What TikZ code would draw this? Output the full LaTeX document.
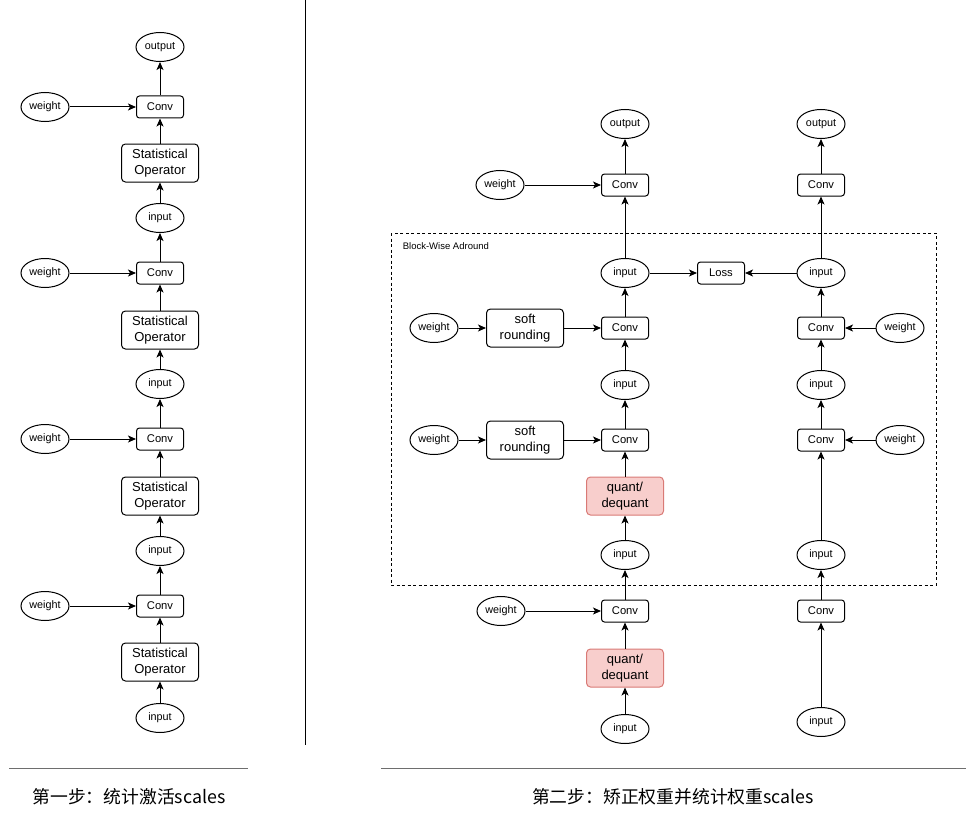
\documentclass[tikz,border=0pt]{standalone}
\usepackage{fontspec}
\setmainfont{Liberation Sans}
\newfontfamily\cjk{Noto Sans CJK SC}
\usetikzlibrary{arrows.meta,shapes.geometric}
\definecolor{qfill}{HTML}{F8CECC}
\definecolor{qdraw}{HTML}{D97A76}
\definecolor{rulegray}{HTML}{6E6E6E}
\begin{document}
\begin{tikzpicture}[x=1pt,y=-1pt,line width=1pt,
  ell/.style={ellipse,draw,minimum width=48pt,minimum height=29pt,inner sep=0pt,font=\fontsize{10.8}{12}\selectfont},
  box/.style={rectangle,rounded corners=3pt,draw,minimum width=47pt,minimum height=22pt,inner sep=0pt,font=\fontsize{11.2}{12}\selectfont},
  bigbox/.style={rectangle,rounded corners=4pt,draw,minimum width=77pt,minimum height=38pt,inner sep=0pt,align=center,font=\fontsize{13}{15.5}\selectfont},
  qd/.style={bigbox,fill=qfill,draw=qdraw},
  arr/.style={-{Stealth[length=8pt,width=7pt,inset=2pt]}},
  captext/.style={font=\cjk\fontsize{17.8}{20}\selectfont}
]
\useasboundingbox (0,0) rectangle (974,824);

% ---------------- left diagram ----------------
\node[ell] (Lout) at (160,47) {output};
\node[box] (Lc1) at (160,107) {Conv};
\node[ell] (Lw1) at (45,107) {weight};
\node[bigbox] (Ls1) at (160,163) {Statistical\\Operator};
\node[ell] (Li1) at (160,218) {input};
\node[box] (Lc2) at (160,273) {Conv};
\node[ell] (Lw2) at (45,273) {weight};
\node[bigbox] (Ls2) at (160,330) {Statistical\\Operator};
\node[ell] (Li2) at (160,384) {input};
\node[box] (Lc3) at (160,439) {Conv};
\node[ell] (Lw3) at (45,439) {weight};
\node[bigbox] (Ls3) at (160,496) {Statistical\\Operator};
\node[ell] (Li3) at (160,551) {input};
\node[box] (Lc4) at (160,606) {Conv};
\node[ell] (Lw4) at (45,606) {weight};
\node[bigbox] (Ls4) at (160,662) {Statistical\\Operator};
\node[ell] (Li4) at (160,718) {input};

\draw[arr] (Li4) -- (Ls4);
\draw[arr] (Ls4) -- (Lc4);
\draw[arr] (Lc4) -- (Li3);
\draw[arr] (Li3) -- (Ls3);
\draw[arr] (Ls3) -- (Lc3);
\draw[arr] (Lc3) -- (Li2);
\draw[arr] (Li2) -- (Ls2);
\draw[arr] (Ls2) -- (Lc2);
\draw[arr] (Lc2) -- (Li1);
\draw[arr] (Li1) -- (Ls1);
\draw[arr] (Ls1) -- (Lc1);
\draw[arr] (Lc1) -- (Lout);
\draw[arr] (Lw1) -- (Lc1);
\draw[arr] (Lw2) -- (Lc2);
\draw[arr] (Lw3) -- (Lc3);
\draw[arr] (Lw4) -- (Lc4);

% separator
\draw[line width=1pt] (305,0) -- (305,745);

% ---------------- right diagram ----------------
\draw[dashed,dash pattern=on 3pt off 2.5pt,line width=0.9pt] (391,233) rectangle (936,585);
\node[anchor=west,font=\fontsize{9.5}{11}\selectfont] (blk) at (399,246) {Block-Wise Adround};

% column A
\node[ell] (Aout) at (625,124) {output};
\node[box] (Ac1) at (625,185) {Conv};
\node[ell] (Aw1) at (500,185) {weight};
\node[ell] (Ai1) at (625,273) {input};
\node[box] (Ac2) at (625,328) {Conv};
\node[bigbox] (As2) at (525,328) {soft\\rounding};
\node[ell] (Aw2) at (434,328) {weight};
\node[ell] (Ai2) at (625,385) {input};
\node[box] (Ac3) at (625,440) {Conv};
\node[bigbox] (As3) at (525,440) {soft\\rounding};
\node[ell] (Aw3) at (434,440) {weight};
\node[qd] (Aq1) at (625,496) {quant/\\dequant};
\node[ell] (Ai3) at (625,555) {input};
\node[box] (Ac4) at (625,611) {Conv};
\node[ell] (Aw4) at (501,611) {weight};
\node[qd] (Aq2) at (625,668) {quant/\\dequant};
\node[ell] (Ai4) at (625,729) {input};

% loss
\node[box] (loss) at (721,273) {Loss};

% column B
\node[ell] (Bout) at (821,124) {output};
\node[box] (Bc1) at (821,185) {Conv};
\node[ell] (Bi1) at (821,273) {input};
\node[box] (Bc2) at (821,328) {Conv};
\node[ell] (Bw2) at (900,328) {weight};
\node[ell] (Bi2) at (821,385) {input};
\node[box] (Bc3) at (821,440) {Conv};
\node[ell] (Bw3) at (900,440) {weight};
\node[ell] (Bi3) at (821,555) {input};
\node[box] (Bc4) at (821,611) {Conv};
\node[ell] (Bi4) at (821,722) {input};

% column A arrows
\draw[arr] (Ai4) -- (Aq2);
\draw[arr] (Aq2) -- (Ac4);
\draw[arr] (Ac4) -- (Ai3);
\draw[arr] (Ai3) -- (Aq1);
\draw[arr] (Aq1) -- (Ac3);
\draw[arr] (Ac3) -- (Ai2);
\draw[arr] (Ai2) -- (Ac2);
\draw[arr] (Ac2) -- (Ai1);
\draw[arr] (Ai1) -- (Ac1);
\draw[arr] (Ac1) -- (Aout);
\draw[arr] (Aw1) -- (Ac1);
\draw[arr] (Aw4) -- (Ac4);
\draw[arr] (Aw2) -- (As2);
\draw[arr] (As2) -- (Ac2);
\draw[arr] (Aw3) -- (As3);
\draw[arr] (As3) -- (Ac3);

% column B arrows
\draw[arr] (Bi4) -- (Bc4);
\draw[arr] (Bc4) -- (Bi3);
\draw[arr] (Bi3) -- (Bc3);
\draw[arr] (Bc3) -- (Bi2);
\draw[arr] (Bi2) -- (Bc2);
\draw[arr] (Bc2) -- (Bi1);
\draw[arr] (Bi1) -- (Bc1);
\draw[arr] (Bc1) -- (Bout);
\draw[arr] (Bw2) -- (Bc2);
\draw[arr] (Bw3) -- (Bc3);

% loss arrows
\draw[arr] (Ai1) -- (loss);
\draw[arr] (Bi1) -- (loss);

% ---------------- captions ----------------
\draw[rulegray,line width=1pt] (9,768) -- (248,768);
\draw[rulegray,line width=1pt] (381,768) -- (966,768);
\node[captext] (cap1) at (129,797) {第一步：统计激活scales};
\node[captext] (cap2) at (673,797) {第二步：矫正权重并统计权重scales};
\end{tikzpicture}
\end{document}
